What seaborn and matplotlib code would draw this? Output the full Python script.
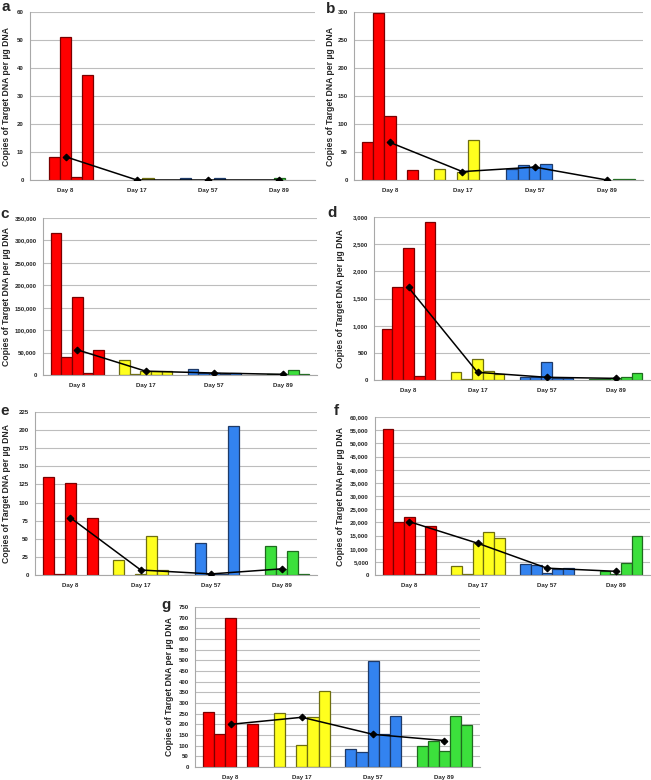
import numpy as np
import pandas as pd
import matplotlib
matplotlib.use("Agg")
import matplotlib.pyplot as plt
import seaborn as sns
from matplotlib.ticker import MultipleLocator, FuncFormatter

# categories: sampling days, five replicate samples per day
days = ["Day 8", "Day 17", "Day 57", "Day 89"]
reps = ["r1", "r2", "r3", "r4", "r5"]

# copies of target DNA per ug DNA, one row per day
panel_a = [[0, 8.3, 51.1, 0.95, 37.5],
           [0, 0, 0, 0.7, 0],
           [0.7, 0, 0, 0.7, 0],
           [0, 0, 0.7, 0, 0]]
panel_b = [[67, 298, 115, 0, 17],
           [20, 0, 15, 71, 0],
           [19, 27, 23, 29, 0],
           [0, 0, 0, 1, 1]]
panel_c = [[317000, 40700, 175000, 4400, 56200],
           [34000, 1500, 10000, 8500, 8500],
           [13500, 3500, 4400, 2500, 5000],
           [1000, 1200, 1500, 10300, 3000]]
panel_d = [[941, 1703, 2423, 80, 2909],
           [141, 20, 381, 172, 117],
           [55, 50, 338, 45, 30],
           [10, 15, 30, 55, 135]]
panel_e = [[135.8, 1, 127.5, 0, 79.2],
           [20.7, 0, 1, 53.9, 6.9],
           [0.5, 44, 1, 1.5, 205],
           [0, 40.5, 8.5, 32.7, 1]]
panel_f = [[55400, 20250, 22000, 300, 18480],
           [3290, 200, 12000, 16450, 14050],
           [4180, 3800, 900, 2150, 2600],
           [0, 1400, 500, 4560, 14800]]
panel_g = [[258, 155, 699, 0, 200],
           [252, 0, 105, 233, 357],
           [83, 70, 495, 153, 238],
           [100, 124, 75, 240, 197]]

# y axis range / step per panel
y_top = {"a": 60, "b": 300, "c": 350000, "d": 3000, "e": 225, "f": 60000, "g": 750}
y_step = {"a": 10, "b": 50, "c": 50000, "d": 500, "e": 25, "f": 5000, "g": 50}

fill_cols = ["#FF0000", "#FFFF1E", "#3383F0", "#3CE03C"]
edge_cols = ["#7A0000", "#6E6E10", "#1E3A68", "#1F6A1F"]

W, H = 651, 780
# axes boxes in pixels (x0, y0, x1, y1), label x (right edge of ylabel), letter position
boxes = {"a": (30, 12, 315, 180), "b": (354, 12, 643, 180),
         "c": (43, 218, 317, 375), "d": (374, 217, 650, 380),
         "e": (35, 412, 317, 575), "f": (375, 417, 650, 575),
         "g": (195, 607, 480, 767)}
ylab_x = {"a": 11, "b": 335, "c": 11, "d": 345, "e": 11, "f": 345, "g": 174}
letter_pos = {"a": (1, 11), "b": (326, 13), "c": (0, 218), "d": (327, 217),
              "e": (0, 415), "f": (334, 415), "g": (161, 609)}

sns.set_style("white")
plt.rcParams["font.family"] = ["Liberation Sans", "DejaVu Sans"]

fig = plt.figure(figsize=(W / 100, H / 100), dpi=100)

panels = {"a": panel_a, "b": panel_b, "c": panel_c, "d": panel_d,
          "e": panel_e, "f": panel_f, "g": panel_g}

for key, vals in panels.items():
    x0, y0, x1, y1 = boxes[key]
    ax = fig.add_axes([x0 / W, 1 - y1 / H, (x1 - x0) / W, (y1 - y0) / H])

    df = pd.DataFrame([(d, r, v) for d, row in zip(days, vals) for r, v in zip(reps, row)],
                      columns=["day", "rep", "value"])

    sns.barplot(data=df, x="day", y="value", hue="rep", order=days, hue_order=reps,
                width=0.78, errorbar=None, legend=False, ax=ax, zorder=2)
    for cont in ax.containers:
        for bar in cont:
            i = int(round(bar.get_x() + bar.get_width() / 2))
            bar.set_facecolor(fill_cols[i])
            bar.set_edgecolor(edge_cols[i])
            bar.set_linewidth(0.9)
            if bar.get_height() == 0:
                bar.set_visible(False)

    # median of the five samples per day
    sns.pointplot(data=df, x="day", y="value", order=days, estimator="median",
                  errorbar=None, color="black", markers="D", markersize=3.4,
                  linewidth=1.1, ax=ax, zorder=4)

    ax.set_xlim(-0.5, 3.5)
    ax.set_ylim(0, y_top[key])
    ax.yaxis.set_major_locator(MultipleLocator(y_step[key]))
    if y_top[key] >= 1000:
        ax.yaxis.set_major_formatter(FuncFormatter(lambda v, p: f"{v:,.0f}"))
    ax.yaxis.grid(True, color="#BDBDBD", lw=0.8)
    ax.set_axisbelow(True)
    for s in ["top", "right"]:
        ax.spines[s].set_visible(False)
    for s in ["left", "bottom"]:
        ax.spines[s].set_color("#A8A8A8")
        ax.spines[s].set_linewidth(0.8)
    ax.tick_params(axis="both", length=0, labelsize=4.4)
    ax.tick_params(axis="x", pad=6)
    ax.tick_params(axis="y", pad=4.5)
    for t in ax.get_xticklabels() + ax.get_yticklabels():
        t.set_fontweight("bold")
    ax.set_xlabel("")
    ax.set_ylabel("Copies of Target DNA per µg DNA", fontsize=6.2, fontweight="bold")
    ax.yaxis.set_label_coords((ylab_x[key] - x0) / (x1 - x0), 0.5)

    lx, ly = letter_pos[key]
    fig.text(lx / W, 1 - ly / H, key, fontsize=11, fontweight="bold", va="baseline", ha="left")

fig.savefig("out.png", dpi=100)
